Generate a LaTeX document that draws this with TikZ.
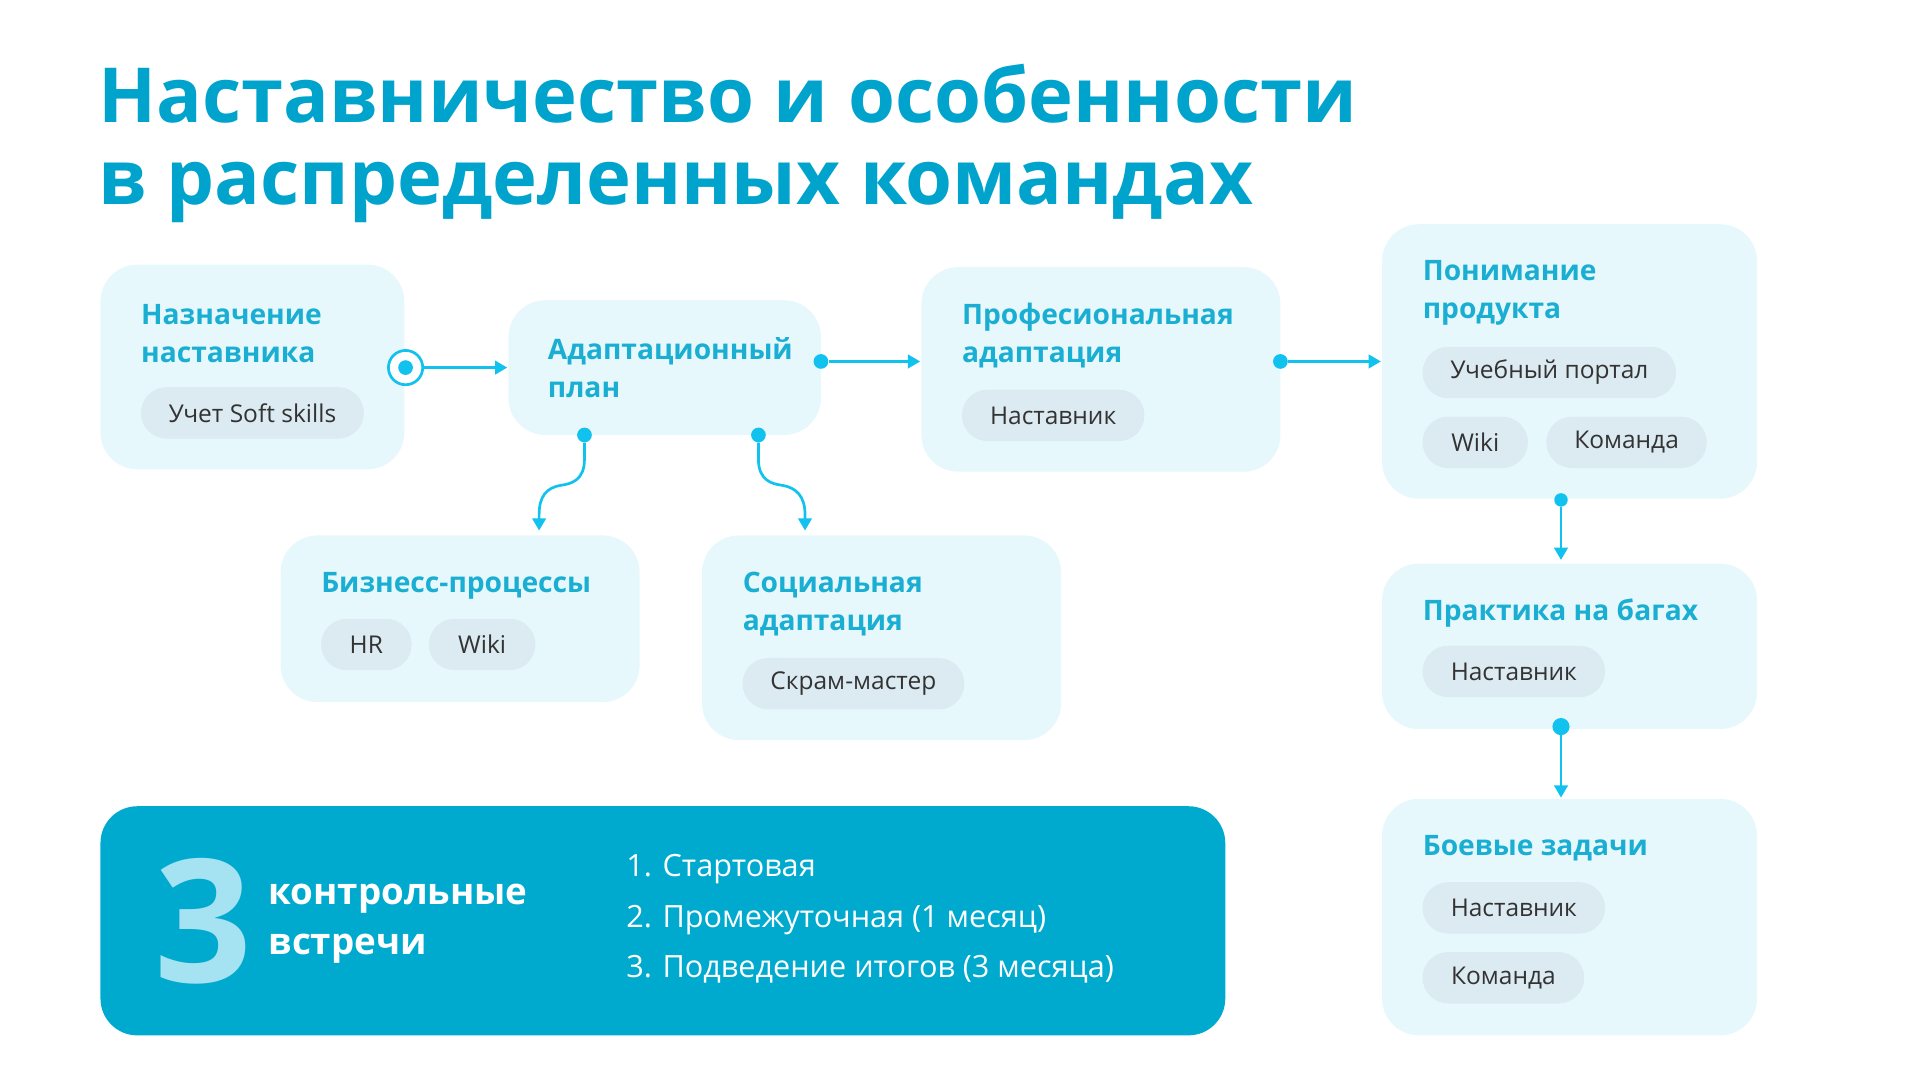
\documentclass[tikz,border=0pt]{standalone}
\usepackage{fontspec}
\setmainfont{Open Sans}
\usetikzlibrary{arrows.meta}
\definecolor{ttl}{HTML}{00A3CC}
\definecolor{hd}{HTML}{1AAED3}
\definecolor{bx}{HTML}{E7F8FC}
\definecolor{chipc}{HTML}{DCEAF1}
\definecolor{ln}{HTML}{12C2EE}
\definecolor{blue}{HTML}{00AACF}
\definecolor{three}{HTML}{A6E3F2}
\begin{document}
\begin{tikzpicture}[x=1pt,y=-1pt,
  box/.style={fill=bx,rounded corners=30pt},
  hd/.style={anchor=west,text=hd,font=\fontsize{23}{31}\selectfont\bfseries,align=left,inner sep=0},
  chip/.style={fill=chipc,rounded corners=21pt,minimum height=42pt,inner sep=0,font=\fontsize{20}{24}\selectfont,text=black!80},
  con/.style={draw=ln,line width=2.2pt,-{Triangle[length=10pt,width=11pt]}},
  dot/.style={circle,fill=ln,inner sep=0,minimum size=12pt}]
\useasboundingbox (0,0) rectangle (1567,881);
\node[anchor=west,text=ttl,font=\fontsize{62}{67}\selectfont\bfseries,align=left,inner sep=0] (title) at (80,117) {Наставничество и особенности\\в распределенных командах};
% boxes
\fill[box] (82,216) rectangle (330,383);
\fill[box] (415,245) rectangle (670,355);
\fill[box] (752,218) rectangle (1045,385);
\fill[box] (1128,183) rectangle (1434,407);
\fill[box] (229,437) rectangle (522,573);
\fill[box] (573,437) rectangle (866,604);
\fill[box] (1128,460) rectangle (1434,595);
\fill[box] (1128,652) rectangle (1434,845);
% headings
\node[hd] (hA) at (115,272) {Назначение\\наставника};
\node[hd] (hB) at (447,300) {Адаптационный\\план};
\node[hd] (hC) at (785,274) {Професиональная\\адаптация};
\node[hd] (hD) at (1161,239) {Понимание\\продукта};
\node[hd] (hE) at (262,478) {Бизнесс-процессы};
\node[hd] (hF) at (606,493) {Социальная\\адаптация};
\node[hd] (hG) at (1161,500) {Практика на багах};
\node[hd] (hH) at (1161,692) {Боевые задачи};
% chips
\node[chip,minimum width=182pt] (c1) at (206,337) {Учет Soft skills};
\node[chip,minimum width=149pt] (c2) at (859.5,339) {Наставник};
\node[chip,minimum width=207pt] (c3) at (1264.5,304) {Учебный портал};
\node[chip,minimum width=86pt] (c4) at (1204,361) {Wiki};
\node[chip,minimum width=131pt] (c5) at (1327.5,361) {Команда};
\node[chip,minimum width=74pt] (c6) at (299,526) {HR};
\node[chip,minimum width=87pt] (c7) at (393.5,526) {Wiki};
\node[chip,minimum width=181pt] (c8) at (696.5,558) {Скрам-мастер};
\node[chip,minimum width=149pt] (c9) at (1235.5,548) {Наставник};
\node[chip,minimum width=149pt] (c10) at (1235.5,741) {Наставник};
\node[chip,minimum width=132pt] (c11) at (1227,798) {Команда};
% connector points
\coordinate (rA) at (331,300);
\coordinate (tB) at (414,300);
\node[dot] (dB) at (670,295) {};
\coordinate (tC) at (751,295);
\node[dot] (dC) at (1045,295) {};
\coordinate (tD) at (1127,295);
\node[dot] (dB1) at (477,355) {};
\coordinate (tE) at (440,433);
\node[dot] (dB2) at (619,355) {};
\coordinate (tF) at (657,433);
\node[dot,minimum size=11pt] (dD) at (1274,408) {};
\coordinate (tG) at (1274,457);
\node[dot,minimum size=14pt] (dG) at (1274,593) {};
\coordinate (tH) at (1274,651);
\draw[ln,line width=2.2pt,fill=white] (rA) circle (14pt);
\fill[ln] (rA) circle (6pt);
\draw[con] ([xshift=14pt]rA) -- (tB);
\draw[con] (dB) -- (tC);
\draw[con] (dC) -- (tD);
\draw[con] (dB1) -- (477,375) .. controls (477,392) and (466,395) .. (458,396) .. controls (446,398) and (440,405) .. (440,420) -- (tE);
\draw[con] (dB2) -- (619,375) .. controls (619,392) and (630,395) .. (638,396) .. controls (650,398) and (657,405) .. (657,420) -- (tF);
\draw[con] (dD) -- (tG);
\draw[con] (dG) -- (tH);
% bottom box
\fill[blue,rounded corners=30pt] (82,658) rectangle (1000,845);
\node[anchor=center,text=three,font=\fontsize{140}{140}\selectfont\bfseries,inner sep=0] (n3) at (166,752) {3};
\node[anchor=west,text=white,font=\fontsize{30}{41}\selectfont\bfseries,align=left,inner sep=0] (mt) at (219,754) {контрольные\\встречи};
\node[anchor=west,text=white,font=\fontsize{25}{41}\selectfont,align=left,inner sep=0] (lst) at (511,750) {1. Стартовая\\2. Промежуточная (1 месяц)\\3. Подведение итогов (3 месяца)};
\end{tikzpicture}
\end{document}
